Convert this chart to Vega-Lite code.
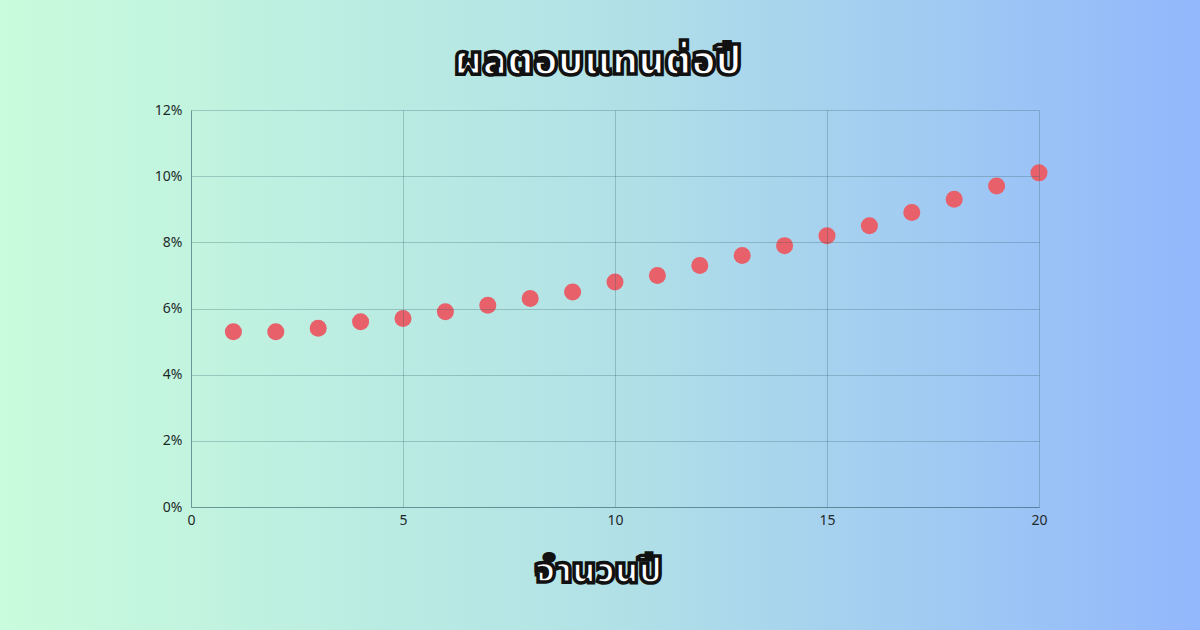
{
  "$schema": "https://vega.github.io/schema/vega-lite/v6.json",
  "description": "Annual return by number of years, scatter on a green-to-blue gradient.",
  "width": 848,
  "height": 397,
  "autosize": {"type": "none"},
  "padding": {"left": 191, "top": 110, "right": 161, "bottom": 123},
  "background": "#aed9eb",
  "title": {
    "text": "ผลตอบแทนต่อปี",
    "font": "Noto Sans Thai, Noto Sans, sans-serif",
    "fontSize": 40,
    "fontWeight": 900,
    "color": "#ffffff",
    "anchor": "middle",
    "dx": -17,
    "offset": -82
  },
  "config": {
    "view": {"stroke": null},
    "style": {
      "group-title": {"stroke": "#111111", "strokeWidth": 3.5},
      "guide-title": {"stroke": "#111111", "strokeWidth": 3.5}
    },
    "axis": {
      "grid": true,
      "gridColor": "#2d5a66",
      "gridOpacity": 0.28,
      "domainColor": "#2d5a66",
      "domainOpacity": 0.45,
      "ticks": false,
      "labelFont": "Noto Sans, sans-serif",
      "labelFontSize": 14,
      "labelColor": "#1e2a2a"
    }
  },
  "layer": [
    {
      "data": {"values": [{}]},
      "mark": {
        "type": "rect",
        "clip": false,
        "fill": {
          "gradient": "linear",
          "x1": 0, "y1": 0, "x2": 1, "y2": 0,
          "stops": [
            {"offset": 0, "color": "#c9fcdc"},
            {"offset": 0.5, "color": "#b2e2e6"},
            {"offset": 1, "color": "#93b7fc"}
          ]
        }
      },
      "encoding": {
        "x": {"datum": -4.505, "type": "quantitative"},
        "x2": {"datum": 23.8},
        "y": {"datum": 0.1533, "type": "quantitative"},
        "y2": {"datum": -0.0372}
      }
    },
    {
      "data": {
        "values": [
          {"year": 1, "return": 0.053},
          {"year": 2, "return": 0.053},
          {"year": 3, "return": 0.054},
          {"year": 4, "return": 0.056},
          {"year": 5, "return": 0.057},
          {"year": 6, "return": 0.059},
          {"year": 7, "return": 0.061},
          {"year": 8, "return": 0.063},
          {"year": 9, "return": 0.065},
          {"year": 10, "return": 0.068},
          {"year": 11, "return": 0.070},
          {"year": 12, "return": 0.073},
          {"year": 13, "return": 0.076},
          {"year": 14, "return": 0.079},
          {"year": 15, "return": 0.082},
          {"year": 16, "return": 0.085},
          {"year": 17, "return": 0.089},
          {"year": 18, "return": 0.093},
          {"year": 19, "return": 0.097},
          {"year": 20, "return": 0.101}
        ]
      },
      "mark": {"type": "point", "filled": true, "size": 290, "color": "#e8606a", "opacity": 1},
      "encoding": {
        "x": {
          "field": "year",
          "type": "quantitative",
          "scale": {"domain": [0, 20], "nice": false},
          "axis": {
            "zindex": 1,
            "values": [0, 5, 10, 15, 20],
            "labelFlush": false,
            "labelPadding": 6,
            "title": "จำนวนปี",
            "titleFont": "Noto Sans Thai, Noto Sans, sans-serif",
            "titleFontSize": 36,
            "titleFontWeight": 900,
            "titleColor": "#ffffff",
            "titlePadding": 26,
            "titleX": 407
          }
        },
        "y": {
          "field": "return",
          "type": "quantitative",
          "scale": {"domain": [0, 0.12], "nice": false},
          "axis": {
            "zindex": 1,
            "values": [0, 0.02, 0.04, 0.06, 0.08, 0.1, 0.12],
            "format": ".0%",
            "labelPadding": 9,
            "title": null
          }
        }
      }
    }
  ]
}
